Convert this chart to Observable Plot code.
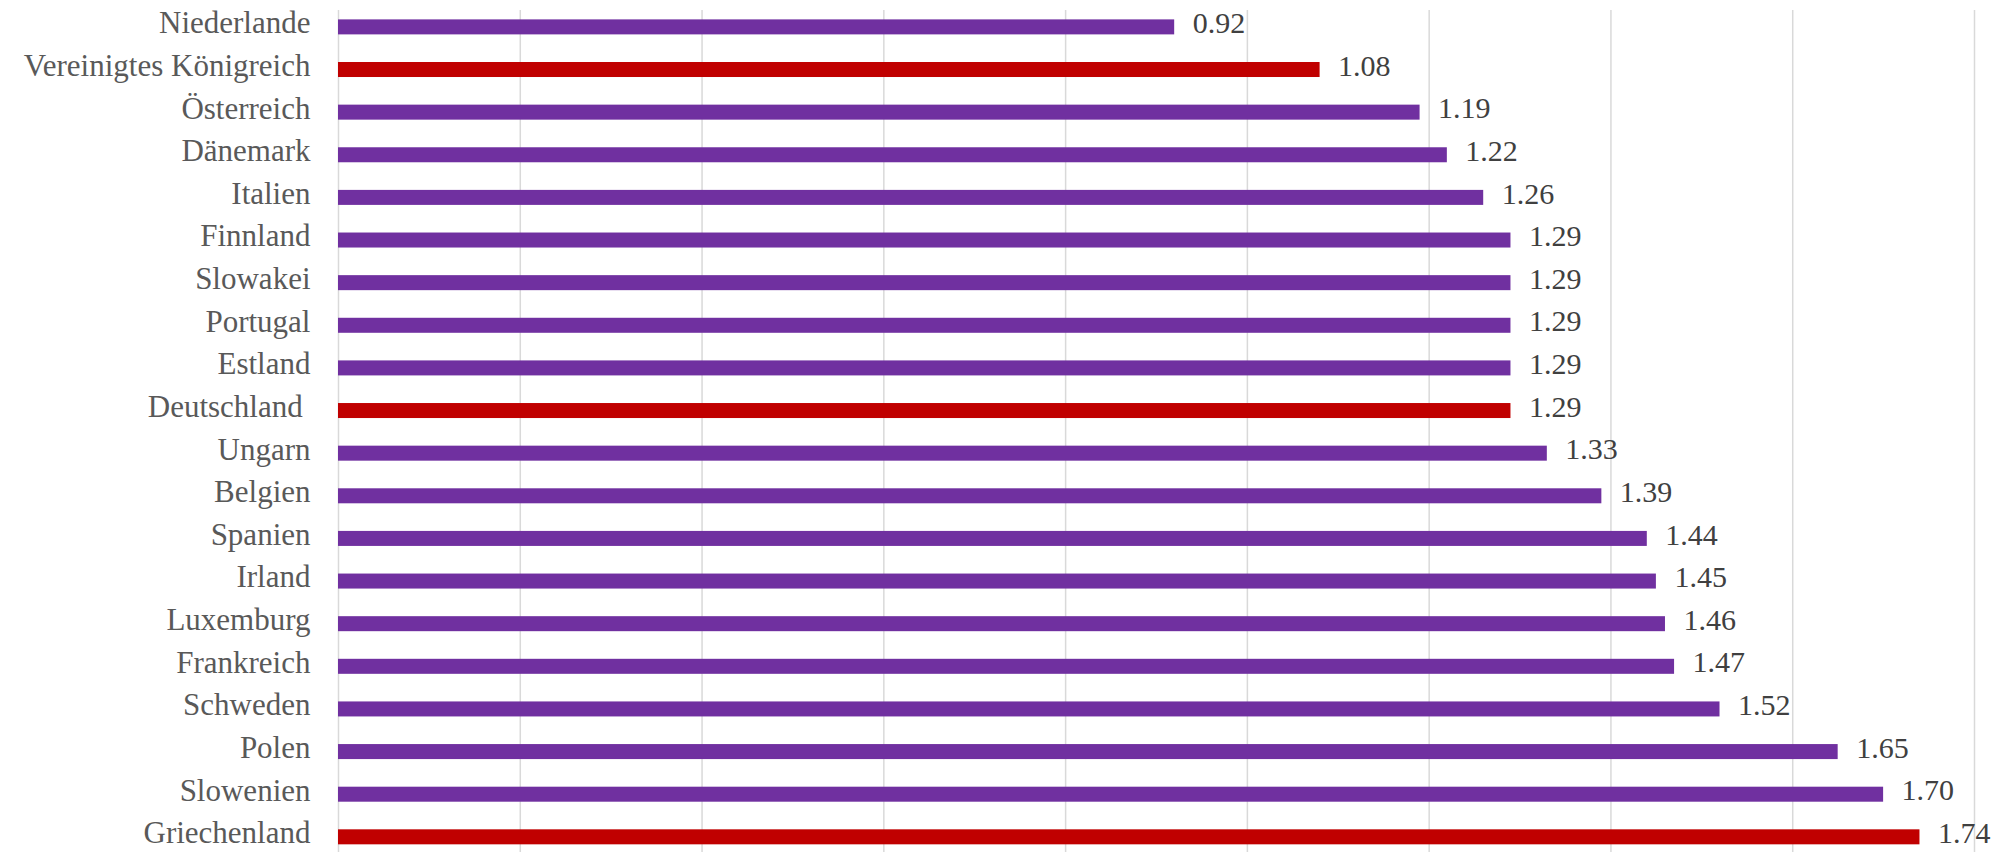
<!DOCTYPE html>
<html>
<head>
<meta charset="utf-8">
<script src="https://cdn.jsdelivr.net/npm/d3@7"></script>
<script src="https://cdn.jsdelivr.net/npm/@observablehq/plot@0.6"></script>
<style>
  html, body { margin: 0; padding: 0; background: #ffffff; }
  #chart { width: 2003px; height: 852px; overflow: hidden; }
</style>
</head>
<body>
<div id="chart"></div>
<script>
const countries = ["Niederlande", "Vereinigtes Königreich", "Österreich", "Dänemark", "Italien",
  "Finnland", "Slowakei", "Portugal", "Estland", "Deutschland\u00a0", "Ungarn", "Belgien",
  "Spanien", "Irland", "Luxemburg", "Frankreich", "Schweden", "Polen", "Slowenien", "Griechenland"];
const values = [0.92, 1.08, 1.19, 1.22, 1.26, 1.29, 1.29, 1.29, 1.29, 1.29, 1.33, 1.39,
  1.44, 1.45, 1.46, 1.47, 1.52, 1.65, 1.70, 1.74];
const highlighted = ["Vereinigtes Königreich", "Deutschland\u00a0", "Griechenland"];
const xTicks = [0, 0.2, 0.4, 0.6, 0.8, 1.0, 1.2, 1.4, 1.6, 1.8];

const data = countries.map((c, i) => ({country: c, value: values[i], hl: highlighted.includes(c)}));

const chart = Plot.plot({
  width: 2003,
  height: 852,
  marginLeft: 338,
  marginRight: 29,
  marginTop: 10,
  marginBottom: 0,
  style: {fontFamily: "'Liberation Serif', serif", fontSize: "31px", color: "#595959", background: "#ffffff"},
  x: {domain: [0, 1.8], axis: null},
  y: {domain: countries, paddingInner: 0.648, paddingOuter: 0.2, round: false, align: 0.55, label: null},
  marks: [
    Plot.ruleX(xTicks, {stroke: "#d9d9d9", strokeWidth: 1.5}),
    Plot.barX(data, {x: "value", y: "country", fill: d => d.hl ? "#C00000" : "#7030A0"}),
    Plot.text(data, {x: "value", y: "country", text: d => d.value.toFixed(2), textAnchor: "start", dx: 18, dy: -4, fill: "#404040", fontSize: 30}),
    Plot.axisY({tickSize: 0, tickPadding: 28, dy: -4, label: null, fontSize: 31, fill: "#595959"})
  ]
});
document.getElementById("chart").appendChild(chart);
</script>
</body>
</html>
